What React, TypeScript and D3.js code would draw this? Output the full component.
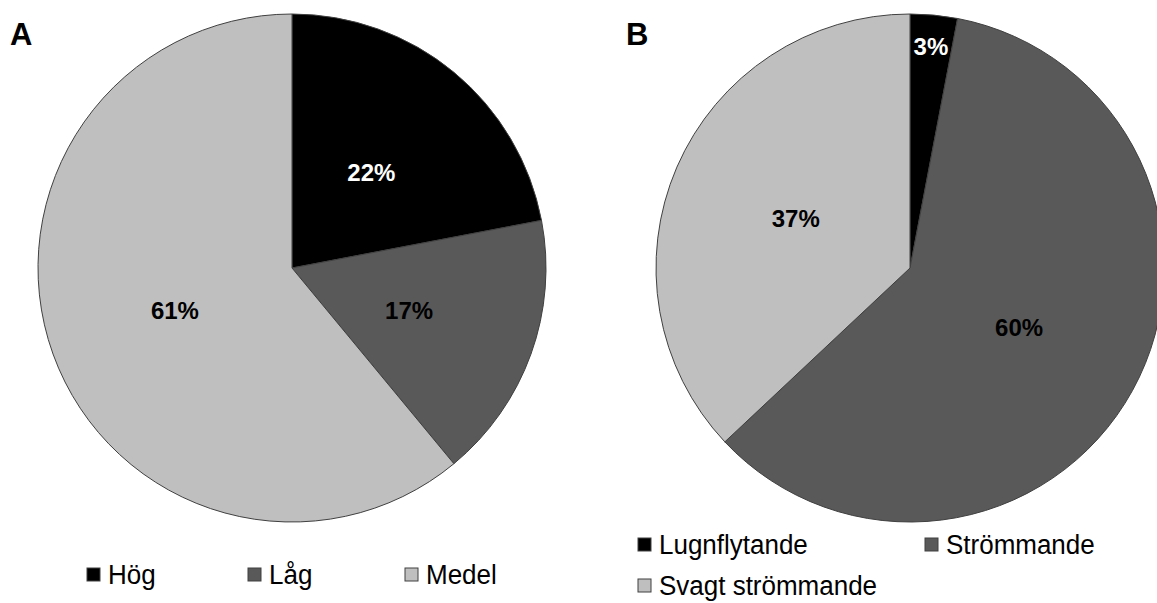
import React from "react";
import * as d3 from "d3";

const catsA = ["Hög", "Låg", "Medel"];
const valsA = [22, 17, 61];
const catsB = ["Lugnflytande", "Strömmande", "Svagt strömmande"];
const valsB = [3, 60, 37];
const colors = ["#000000", "#595959", "#bfbfbf"];
const labelColors = ["#ffffff", "#000000", "#000000"];

const W = 1157;
const H = 603;
const R = 254;
const FONT = "'Liberation Sans', Arial, sans-serif";

function Pie({ cx, cy, cats, vals }: { cx: number; cy: number; cats: string[]; vals: number[] }) {
  const pie = d3.pie<number>().sort(null).value((d) => d)(vals);
  const arc = d3.arc<d3.PieArcDatum<number>>().innerRadius(0).outerRadius(R);
  return (
    <g transform={`translate(${cx},${cy})`}>
      {pie.map((p, i) => (
        <path key={cats[i]} d={arc(p) || ""} fill={colors[i]} stroke="#404040" strokeWidth={1} />
      ))}
      {pie.map((p, i) => {
        const mid = (p.startAngle + p.endAngle) / 2;
        const frac = p.value < 5 ? 0.875 : 0.49;
        const x = Math.sin(mid) * R * frac;
        const y = -Math.cos(mid) * R * frac;
        return (
          <text
            key={"l" + i}
            x={x}
            y={y}
            textAnchor="middle"
            dominantBaseline="central"
            fontFamily={FONT}
            fontWeight="bold"
            fontSize={24}
            fill={labelColors[i]}
          >
            {`${p.value}%`}
          </text>
        );
      })}
    </g>
  );
}

function LegendItem({ x, y, color, label }: { x: number; y: number; color: string; label: string }) {
  return (
    <g>
      <rect x={x} y={y - 7} width={13} height={13} fill={color} stroke="#404040" strokeWidth={1} />
      <text
        x={x + 21}
        y={y + 9}
        transform={`translate(0,${y + 9}) scale(1,1.07) translate(0,${-(y + 9)})`}
        fontFamily={FONT}
        fontSize={26}
        fill="#000"
      >
        {label}
      </text>
    </g>
  );
}

export default function App() {
  const legA = [87, 248, 405];
  const legB: [number, number][] = [
    [638, 545],
    [925, 545],
    [638, 586],
  ];
  return (
    <svg width={W} height={H} style={{ position: "absolute", left: 0, top: 0, background: "#fff" }}>
      <text x={10} y={45} fontFamily={FONT} fontWeight="bold" fontSize={31}>A</text>
      <text x={626} y={45} fontFamily={FONT} fontWeight="bold" fontSize={31}>B</text>
      <Pie cx={292} cy={268} cats={catsA} vals={valsA} />
      <Pie cx={910} cy={268} cats={catsB} vals={valsB} />
      {catsA.map((c, i) => (
        <LegendItem key={c} x={legA[i]} y={575} color={colors[i]} label={c} />
      ))}
      {catsB.map((c, i) => (
        <LegendItem key={c} x={legB[i][0]} y={legB[i][1]} color={colors[i]} label={c} />
      ))}
    </svg>
  );
}
